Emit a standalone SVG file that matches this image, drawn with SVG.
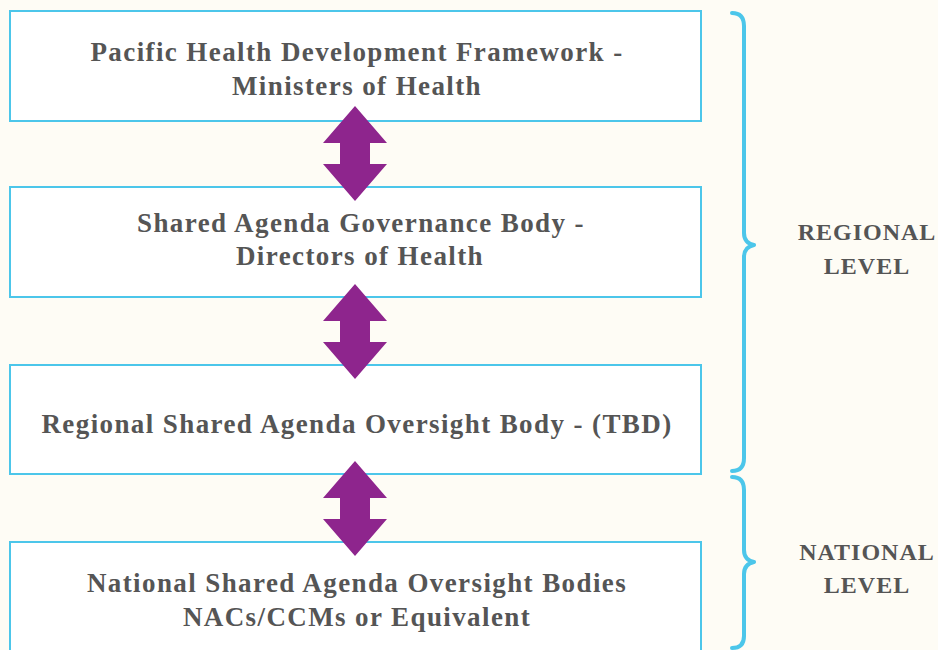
<svg xmlns="http://www.w3.org/2000/svg" width="938" height="650" viewBox="0 0 938 650">
  <style>
    .box { fill: #ffffff; stroke: #4cc6ea; stroke-width: 2; }
    .lbl { font-family: "Liberation Serif", "DejaVu Serif", serif; font-weight: bold; font-size: 27px; fill: #555555; text-anchor: middle; letter-spacing: 1.4px; }
    .side { font-family: "Liberation Serif", "DejaVu Serif", serif; font-weight: bold; font-size: 24px; fill: #555555; text-anchor: middle; letter-spacing: 1px; }
    .arrow { fill: #8e258d; }
    .brace { fill: none; stroke: #4cc6ea; stroke-width: 4; stroke-linecap: round; stroke-linejoin: round; }
  </style>
  <defs>
    <path id="dbl" d="M0,0 L32,37 L15,37 L15,58 L32,58 L0,95 L-32,58 L-15,58 L-15,37 L-32,37 Z"/>
  </defs>
  <rect width="938" height="650" fill="#fefcf5"/>

  <g id="node-phdf">
    <rect class="box" x="10" y="11" width="691" height="110"/>
    <text class="lbl" x="357" y="61">Pacific Health Development Framework -</text>
    <text class="lbl" x="357" y="95">Ministers of Health</text>
  </g>
  <g id="node-governance">
    <rect class="box" x="10" y="187" width="691" height="110"/>
    <text class="lbl" x="361" y="232">Shared Agenda Governance Body -</text>
    <text class="lbl" x="360" y="265">Directors of Health</text>
  </g>
  <g id="node-regional">
    <rect class="box" x="10" y="365" width="691" height="109"/>
    <text class="lbl" x="357" y="433">Regional Shared Agenda Oversight Body - (TBD)</text>
  </g>
  <g id="node-national">
    <rect class="box" x="10" y="542" width="691" height="120"/>
    <text class="lbl" x="357" y="592">National Shared Agenda Oversight Bodies</text>
    <text class="lbl" x="357" y="626">NACs/CCMs or Equivalent</text>
  </g>

  <g id="connectors">
    <use href="#dbl" class="arrow" x="355" y="106"/>
    <use href="#dbl" class="arrow" x="355" y="284"/>
    <use href="#dbl" class="arrow" x="355" y="461"/>
  </g>

  <g id="braces">
    <path class="brace" d="M732,13 Q744,13 744,26 L744,233 Q744,243 754,245 Q744,247 744,257 L744,458 Q744,471 732,471"/>
    <path class="brace" d="M732,477 Q744,477 744,490 L744,550 Q744,560 754,562 Q744,564 744,574 L744,636 Q744,648 732,648"/>
  </g>

  <g id="level-labels">
    <text class="side" x="867" y="240">REGIONAL</text>
    <text class="side" x="867" y="274">LEVEL</text>
    <text class="side" x="867" y="560">NATIONAL</text>
    <text class="side" x="867" y="593">LEVEL</text>
  </g>
</svg>
